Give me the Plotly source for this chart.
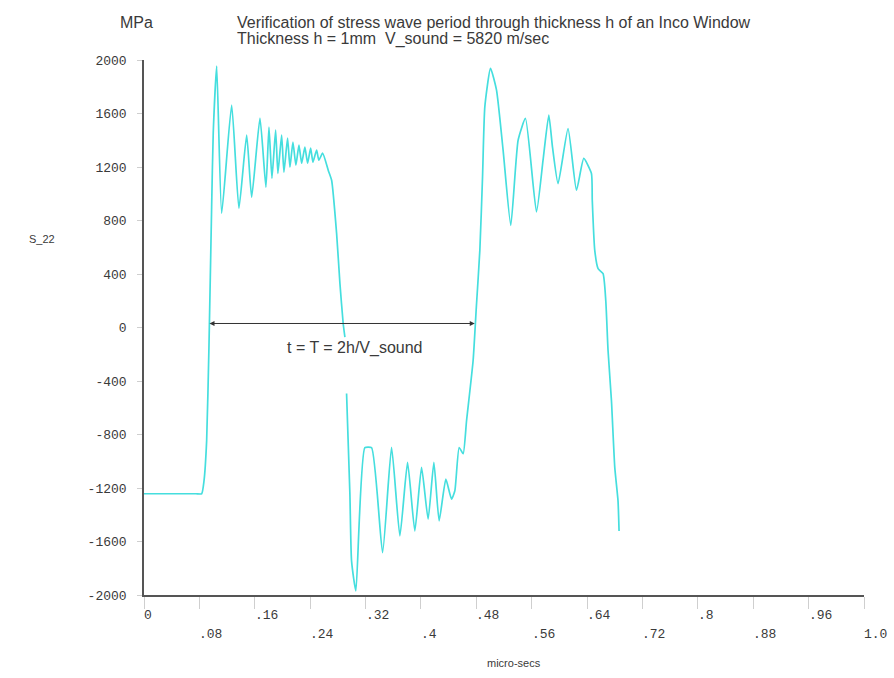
import plotly.graph_objects as go

# S_22 stress history through the Inco window (time in micro-seconds, stress in MPa)
time_us = [
    0.0, 0.0400, 0.0750, 0.0833, 0.0866, 0.0905, 0.0938, 0.0977, 0.1000, 0.1050, 0.1122, 0.1266,
    0.1371, 0.1483, 0.1555, 0.1675, 0.1761, 0.1805, 0.1848, 0.1901, 0.1934, 0.1988,
    0.2021, 0.2074, 0.2108, 0.2151, 0.2194, 0.2238, 0.2277, 0.2324, 0.2363, 0.2407,
    0.2440, 0.2493, 0.2526, 0.2580, 0.2661, 0.2710, 0.2782, 0.2830, 0.2877, 0.2902,
    None,
    0.2926, 0.2974, 0.2998, 0.3060, 0.3190, 0.3287, 0.3446, 0.3576, 0.3696, 0.3807,
    0.3912, 0.4009, 0.4104, 0.4187, 0.4263, 0.4360, 0.4442, 0.4490, 0.4552, 0.4610,
    0.4659, 0.4754, 0.4800, 0.4851, 0.4890, 0.4923, 0.5005, 0.5092, 0.5187, 0.5298,
    0.5404, 0.5510, 0.5669, 0.5764, 0.5847, 0.5900, 0.5981, 0.6125, 0.6247, 0.6352,
    0.6463, 0.6475, 0.6511, 0.6559, 0.6631, 0.6670, 0.6703, 0.6752, 0.6800, 0.6847,
    0.6862,
]
s22_mpa = [
    -1243, -1243, -1243, -1243, -1150, -846, -150, 901, 1453, 1955, 854, 1663,
    891, 1438, 974, 1565, 1049, 1498, 1116, 1475, 1153, 1438,
    1161, 1416, 1198, 1386, 1213, 1363, 1228, 1348, 1228, 1341,
    1236, 1326, 1251, 1303, 1176, 1101, 704, 330, 30, -72,
    None,
    -494, -1243, -1745, -1970, -899, -899, -1683, -897, -1558, -1009,
    -1521, -1046, -1433, -1009, -1446, -1134, -1283, -1221, -897, -944,
    -697, -247, 150, 577, 1126, 1650, 1938, 1775, 1326, 764,
    1401, 1563, 864, 1251, 1588, 1351, 1076, 1488, 1026, 1264,
    1151, 951, 577, 440, 402, 202, -172, -547, -1046, -1296,
    -1521,
]

# Axis ticks
x_tick_vals = [0, 0.08, 0.16, 0.24, 0.32, 0.40, 0.48, 0.56, 0.64, 0.72, 0.80, 0.88, 0.96, 1.04]
x_tick_text = ["0", ".08", ".16", ".24", ".32", ".4", ".48", ".56", ".64", ".72", ".8", ".88", ".96", "1.0"]
y_tick_vals = [2000, 1600, 1200, 800, 400, 0, -400, -800, -1200, -1600, -2000]
y_tick_text = ["2000", "1600", "1200", "800", "400", "0", "-400", "-800", "-1200", "-1600", "-2000"]

# Period marker: one round trip of the wave through the thickness
period_start = 0.0924
period_end = 0.4778
period_level = 30
period_label = "t = T = 2h/V_sound"

title_lines = [
    "Verification of stress wave period through thickness h of an Inco Window",
    "Thickness h = 1mm  V_sound = 5820 m/sec",
]

TEXT = "#3a3a3a"
TICK_FONT = dict(family="Liberation Mono", size=13, color=TEXT)
TITLE_FONT = dict(family="Liberation Sans", size=16, color=TEXT)
SMALL_FONT = dict(family="Liberation Sans", size=11, color=TEXT)

fig = go.Figure()
fig.add_trace(go.Scatter(
    x=time_us, y=s22_mpa, mode="lines",
    line=dict(color="#45dede", width=1.7, shape="spline", smoothing=0.5),
    connectgaps=False, hoverinfo="skip", showlegend=False,
))

fig.update_layout(
    width=894, height=678,
    margin=dict(l=144, r=30, t=60, b=83),
    paper_bgcolor="white", plot_bgcolor="white",
    showlegend=False,
)
fig.update_xaxes(
    range=[0, 1.04], tickvals=x_tick_vals, showticklabels=False,
    ticks="outside", ticklen=12, tickwidth=1, tickcolor="#cfcfcf",
    showgrid=False, zeroline=False,
    showline=True, linecolor="#555555", linewidth=1.6,
)
fig.update_yaxes(
    range=[-2000, 2000], tickvals=y_tick_vals, ticktext=y_tick_text,
    tickfont=TICK_FONT, ticks="outside", ticklen=5, tickwidth=1,
    tickcolor="#cfcfcf", ticklabelstandoff=8,
    showgrid=False, zeroline=False,
    showline=True, linecolor="#555555", linewidth=1.6,
)

# Staggered x tick labels, left-aligned at their tick
for i, (v, t) in enumerate(zip(x_tick_vals, x_tick_text)):
    fig.add_annotation(
        x=v, y=0, xref="x", yref="paper", text=t, showarrow=False,
        xanchor="left", yanchor="middle", xshift=-2,
        yshift=-20 if i % 2 == 0 else -39, font=TICK_FONT,
    )

# Double-headed period arrow and its label
fig.add_annotation(
    x=period_end, y=period_level, ax=period_start, ay=period_level,
    xref="x", yref="y", axref="x", ayref="y", text="",
    showarrow=True, arrowside="end+start", arrowhead=2,
    arrowsize=1, arrowwidth=1, arrowcolor="#333333",
)
fig.add_annotation(
    x=(period_start + period_end) / 2 + 0.02, y=period_level, xref="x", yref="y",
    text=period_label, showarrow=False, yshift=-25, font=TITLE_FONT,
)

# Title, two tightly spaced lines
for line, shift in zip(title_lines, [38, 21]):
    fig.add_annotation(
        x=(235 - 144) / 720, y=1, xref="paper", yref="paper", text=line,
        showarrow=False, xanchor="left", yanchor="middle", yshift=shift,
        font=TITLE_FONT,
    )

# Axis captions
fig.add_annotation(
    x=-26 / 720, y=1, xref="paper", yref="paper", text="MPa",
    showarrow=False, xanchor="left", yanchor="middle", yshift=38,
    font=TITLE_FONT,
)
fig.add_annotation(
    x=-117 / 720, y=(595 - 239) / 535, xref="paper", yref="paper", text="S_22",
    showarrow=False, xanchor="left", yanchor="middle", font=SMALL_FONT,
)
fig.add_annotation(
    x=(514 - 144) / 720, y=0, xref="paper", yref="paper", text="micro-secs",
    showarrow=False, xanchor="center", yanchor="middle", yshift=-68,
    font=SMALL_FONT,
)

fig.write_html("out.html")
